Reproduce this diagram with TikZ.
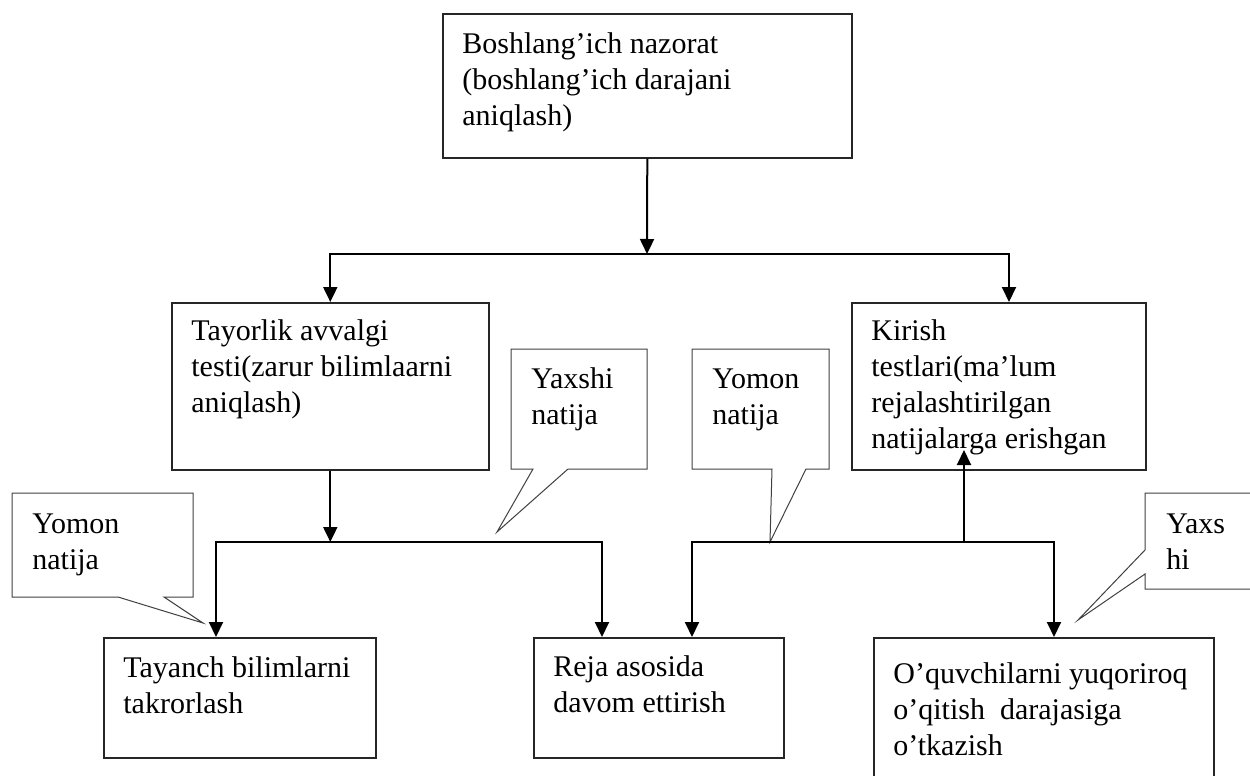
\documentclass[tikz,border=0pt]{standalone}
\usepackage{fontspec}
\setmainfont{Liberation Serif}
\usetikzlibrary{arrows.meta}
\begin{document}
\begin{tikzpicture}[x=0.5pt,y=-0.5pt,
  bx/.style 2 args={draw=black!85, line width=0.8pt, anchor=north west, inner sep=0pt,
    minimum width=#1*0.5pt, minimum height=#2*0.5pt},
  txt/.style={inner sep=0pt, anchor=north west, align=left, font=\fontsize{15}{18}\selectfont},
  arr/.style={line width=1pt, draw=black, -{Triangle[length=7.5pt,width=7pt]}},
  callout/.style={draw=black!75, line width=0.5pt, fill=white, line join=miter}]
\useasboundingbox (0,0) rectangle (1250,776);
\clip (0,0) rectangle (1250,776);

% boxes
\node[bx={409}{144}] (A) at (442,13) {};
\node[bx={317}{167}] (B) at (171,302) {};
\node[bx={294}{167}] (C) at (851,302) {};
\node[bx={272}{120}] (D) at (103,637) {};
\node[bx={250}{120}] (E) at (533,637) {};
\node[bx={340}{200}] (F) at (873,637) {};

% callouts
\draw[callout] (12,493) -- (193,493) -- (193,597) -- (164,597) -- (203,623) -- (118,597) -- (12,597) -- cycle;
\draw[callout] (511,349) -- (647,349) -- (647,469) -- (568,469) -- (497,532) -- (533,469) -- (511,469) -- cycle;
\draw[callout] (692,349) -- (829,349) -- (829,469) -- (806,469) -- (770,542) -- (772,469) -- (692,469) -- cycle;
\draw[callout] (1145,493) -- (1262,493) -- (1262,589) -- (1145,589) -- (1145,574) -- (1078,620) -- (1145,550) -- cycle;

% texts
\node[txt] (tA) at (462,27.8) {\strut Boshlang’ich nazorat\\(boshlang’ich darajani\\aniqlash)};
\node[txt] (tB) at (191,314.8) {\strut Tayorlik avvalgi\\testi(zarur bilimlaarni\\aniqlash)};
\node[txt] (tC) at (871,314.8) {\strut Kirish\\testlari(ma’lum\\rejalashtirilgan\\natijalarga erishgan};
\node[txt] (tD) at (123,651.8) {\strut Tayanch bilimlarni\\takrorlash};
\node[txt] (tE) at (553,650.8) {\strut Reja asosida\\davom ettirish};
\node[txt] (tF) at (893,657.8) {\strut O’quvchilarni yuqoriroq\\o’qitish\ \ darajasiga\\o’tkazish};
\node[txt] (c1) at (32,507.8) {\strut Yomon\\natija};
\node[txt] (c2) at (531,362.8) {\strut Yaxshi\\natija};
\node[txt] (c3) at (712,362.8) {\strut Yomon\\natija};
\node[txt] (c4) at (1166,507.8) {\strut Yaxs\\hi};

% connectors
\coordinate (j1) at (647,254);
\coordinate (cK) at (1009,254);
\draw[arr] (A.south) -- (j1);
\draw[arr] (j1) -- (B.north |- j1) -- (B.north);
\draw[arr] (j1) -- (cK) -- (cK |- C.north);

\coordinate (dL) at (216,542);
\coordinate (eL) at (602,542);
\coordinate (j2) at (B.south |- dL);
\draw[arr] (B.south) -- (j2);
\draw[arr] (j2) -- (dL) -- (dL |- D.north);
\draw[arr] (j2) -- (eL) -- (eL |- E.north);

\coordinate (kU) at (964,542);
\coordinate (kT) at (964,450);
\coordinate (eR) at (692,542);
\coordinate (fR) at (1054,542);
\draw[arr] (kU) -- (eR) -- (eR |- E.north);
\draw[arr] (kU) -- (fR) -- (fR |- F.north);
\draw[arr] (kU) -- (kT);
\end{tikzpicture}
\end{document}
